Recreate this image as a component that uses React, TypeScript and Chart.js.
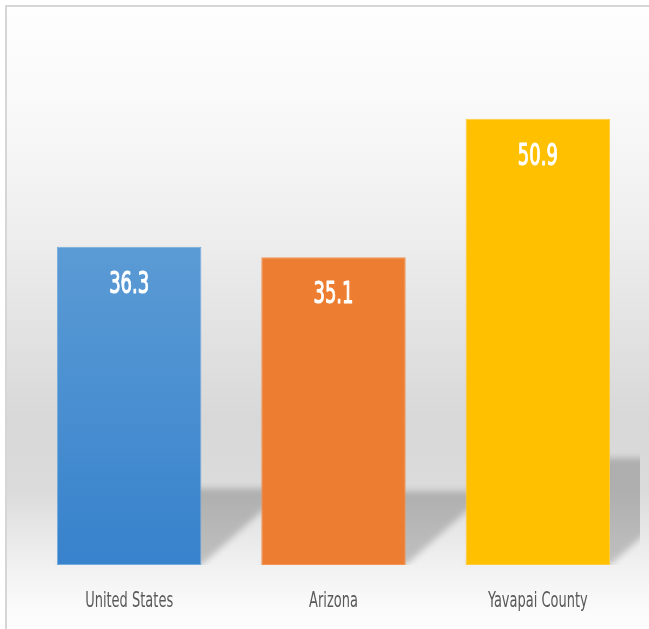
import React, { useEffect, useRef } from "react";
import { Chart, registerables } from "chart.js";
Chart.register(...registerables);

const categories = ["United States", "Arizona", "Yavapai County"];
const values = [36.3, 35.1, 50.9];
const barColors = ["#5b9bd5", "#ed7d31", "#ffc000"];
const barBottomColors = ["#3782cc", "#ed7d31", "#ffc000"];
const barBorders = ["#74abdc", "#f39452", "#ffcb3a"];
const yMin = 0;
const yMax = 60;

const FONT = "'Liberation Sans Narrow', 'DejaVu Sans Condensed', 'Liberation Sans', sans-serif";

export default function App() {
  const ref = useRef<HTMLCanvasElement>(null);

  useEffect(() => {
    document.body.style.margin = "0";
    const canvas = ref.current!;

    const bgPlugin = {
      id: "bgPlugin",
      beforeDraw(chart: any) {
        const { ctx, width, height } = chart;
        ctx.save();
        const g = ctx.createLinearGradient(0, 6, 0, height);
        const h = height - 6;
        const at = (y: number) => Math.min(1, Math.max(0, (y - 6) / h));
        g.addColorStop(0, "#fefefe");
        g.addColorStop(at(120), "#f8f8f8");
        g.addColorStop(at(240), "#ededed");
        g.addColorStop(at(420), "#d8d8d8");
        g.addColorStop(at(490), "#dbdbdb");
        g.addColorStop(at(562), "#f0f0f0");
        g.addColorStop(at(605), "#fafafa");
        g.addColorStop(1, "#fdfdfd");
        ctx.fillStyle = g;
        ctx.fillRect(6, 6, width, height);
        ctx.strokeStyle = "#d6d6d6";
        ctx.lineWidth = 2;
        ctx.beginPath();
        ctx.moveTo(6, height + 2);
        ctx.lineTo(6, 6);
        ctx.lineTo(width + 2, 6);
        ctx.stroke();
        ctx.restore();
      },
    };

    const shadowPlugin = {
      id: "shadowPlugin",
      beforeDatasetsDraw(chart: any) {
        const meta = chart.getDatasetMeta(0);
        const ctx = chart.ctx;
        const area = chart.chartArea;
        ctx.save();
        ctx.beginPath();
        ctx.rect(0, 0, area.right, area.bottom);
        ctx.clip();
        ctx.filter = "blur(3px)";
        ctx.fillStyle = "rgba(0,0,0,0.2)";
        meta.data.forEach((bar: any) => {
          const { x, y, base, width } = bar.getProps(["x", "y", "base", "width"], true);
          const hh = base - y;
          const L = x - width / 2;
          const R = x + width / 2;
          const top = base - 0.24 * hh;
          const s = 0.27 * hh;
          ctx.beginPath();
          ctx.moveTo(L, base);
          ctx.lineTo(R, base);
          ctx.lineTo(R + s, top);
          ctx.lineTo(L + s, top);
          ctx.closePath();
          ctx.fill();
        });
        ctx.restore();
      },
    };

    const labelPlugin = {
      id: "labelPlugin",
      afterDatasetsDraw(chart: any) {
        const meta = chart.getDatasetMeta(0);
        const ctx = chart.ctx;
        const area = chart.chartArea;
        ctx.save();
        ctx.textAlign = "center";
        ctx.textBaseline = "alphabetic";
        // value labels
        ctx.font = `31px ${FONT}`;
        const vScale = 40 / ctx.measureText("00.0").width;
        meta.data.forEach((bar: any, i: number) => {
          const { x, y } = bar.getProps(["x", "y"], true);
          ctx.save();
          ctx.translate(x, y + 46);
          ctx.scale(vScale, 1);
          ctx.fillStyle = "#ffffff";
          ctx.strokeStyle = "#ffffff";
          ctx.lineWidth = 1.1;
          ctx.lineJoin = "round";
          const t = values[i].toFixed(1);
          ctx.fillText(t, 0, 0);
          ctx.strokeText(t, 0, 0);
          ctx.restore();
        });
        // category labels
        ctx.font = `21px ${FONT}`;
        const cScale = 88 / ctx.measureText("United States").width;
        const xs = chart.scales.x;
        categories.forEach((c, i) => {
          const x = xs.getPixelForValue(i);
          ctx.save();
          ctx.translate(x, area.bottom + 42);
          ctx.scale(cScale, 1);
          ctx.fillStyle = "#595959";
          ctx.fillText(c, 0, 0);
          ctx.restore();
        });
        ctx.restore();
      },
    };

    const chart = new Chart(canvas, {
      type: "bar",
      data: {
        labels: categories,
        datasets: [
          {
            data: values,
            backgroundColor: (c: any) => {
              const i = c.dataIndex;
              const ch = c.chart;
              if (i === undefined || !ch.chartArea || !ch.scales?.y) return barColors[i ?? 0];
              const y0 = ch.scales.y.getPixelForValue(values[i]);
              const y1 = ch.scales.y.getPixelForValue(0);
              const g = ch.ctx.createLinearGradient(0, y0, 0, y1);
              g.addColorStop(0, barColors[i]);
              g.addColorStop(1, barBottomColors[i]);
              return g;
            },
            borderColor: barBorders,
            borderWidth: 1,
            borderSkipped: false,
            barPercentage: 0.707,
            categoryPercentage: 1,
          },
        ],
      },
      options: {
        responsive: false,
        animation: false,
        layout: { padding: { left: 27, right: 9, top: 39, bottom: 64 } },
        plugins: {
          legend: { display: false },
          tooltip: { enabled: false },
          title: { display: false },
        },
        scales: {
          x: { display: false },
          y: { display: false, min: yMin, max: yMax },
        },
      },
      plugins: [bgPlugin, shadowPlugin, labelPlugin],
    });
    return () => chart.destroy();
  }, []);

  return <canvas ref={ref} width={649} height={629} style={{ display: "block" }} />;
}
